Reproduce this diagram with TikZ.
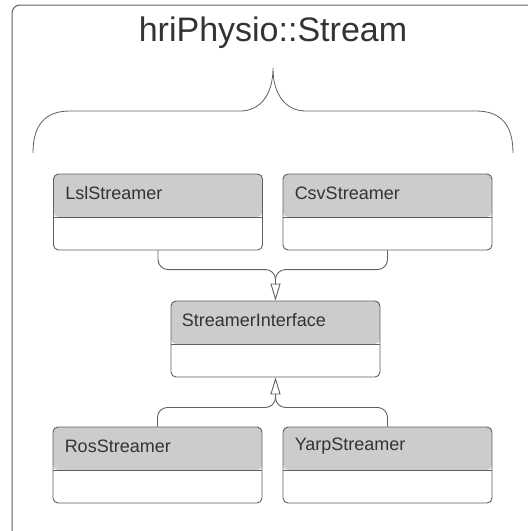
\documentclass[tikz,border=0pt]{standalone}
\usepackage{fontspec}
\setmainfont{Liberation Sans}
\usetikzlibrary{arrows.meta,calc}
\definecolor{hdrgray}{HTML}{CCCCCC}
\definecolor{linegray}{HTML}{5F5F5F}
\definecolor{txtgray}{HTML}{333333}
\tikzset{
  classbox/.style={draw=linegray, line width=0.9pt, rounded corners=5pt,
    minimum width=209pt, minimum height=76pt, inner sep=0pt, fill=white,
    path picture={\fill[hdrgray] (path picture bounding box.north west) rectangle
      ([yshift=-43pt]path picture bounding box.north east);
      \draw[linegray, line width=0.9pt] ([yshift=-43pt]path picture bounding box.north west) --
      ([yshift=-43pt]path picture bounding box.north east);}},
  classname/.style={anchor=west, inner sep=0pt, text=txtgray, font=\fontsize{18pt}{20pt}\selectfont},
  conn/.style={draw=linegray, line width=0.9pt, rounded corners=10pt},
  inherit/.style={draw=linegray, line width=0.9pt, -{Triangle[open, length=17pt, width=10pt]}},
}
\begin{document}
\begin{tikzpicture}[x=1pt, y=-1pt]
  \useasboundingbox (0,0) rectangle (528,531);
  % outer package frame, running past the right and lower edges
  \begin{scope}
    \clip (0,0) rectangle (528,531);
    \draw[draw=linegray, line width=1pt, rounded corners=8pt] (12,5) rectangle (560,560);
  \end{scope}
  \node[inner sep=0pt, text=txtgray, font=\fontsize{34pt}{38pt}\selectfont] (title) at (273,33) {hriPhysio::Stream};

  % brace below the title
  \coordinate (btip) at (273,68);
  \coordinate (bl) at (33,153);
  \coordinate (br) at (513,153);
  \draw[linegray, line width=0.8pt]
    (bl) .. controls (33,125) and (45,111) .. (70,111) -- (240,111)
         .. controls (260,111) and (273,95) .. (btip)
         .. controls (273,95) and (286,111) .. (306,111) -- (476,111)
         .. controls (501,111) and (513,125) .. (br);

  % classes
  \node[classbox] (lsl) at (158,212) {};
  \node[classbox] (csv) at (387.5,212) {};
  \node[classbox] (si)  at (275.5,339) {};
  \node[classbox] (ros) at (157.5,465) {};
  \node[classbox] (yarp) at (387.5,465) {};
  \node[classname] (lslT) at ([xshift=12pt,yshift=-20pt]lsl.north west) {LslStreamer};
  \node[classname] (csvT) at ([xshift=12pt,yshift=-20pt]csv.north west) {CsvStreamer};
  \node[classname] (siT) at ([xshift=11pt,yshift=-20pt]si.north west) {StreamerInterface};
  \node[classname] (rosT) at ([xshift=12pt,yshift=-20pt]ros.north west) {RosStreamer};
  \node[classname] (yarpT) at ([xshift=12pt,yshift=-20pt]yarp.north west) {YarpStreamer};

  % generalisation connectors, upper pair
  \coordinate (upH) at ([yshift=31pt]si.north);
  \coordinate (upT) at ([yshift=17pt]si.north);
  \draw[conn] (lsl.south) |- (upH) -- (upT);
  \draw[conn] (csv.south) |- (upH) -- (upT);
  \draw[inherit] (upT) -- (si.north);

  % generalisation connectors, lower pair
  \coordinate (loH) at ([yshift=-30pt]si.south);
  \coordinate (loT) at ([yshift=-17pt]si.south);
  \draw[conn] (ros.north) |- (loH) -- (loT);
  \draw[conn] (yarp.north) |- (loH) -- (loT);
  \draw[inherit] (loT) -- (si.south);
\end{tikzpicture}
\end{document}
